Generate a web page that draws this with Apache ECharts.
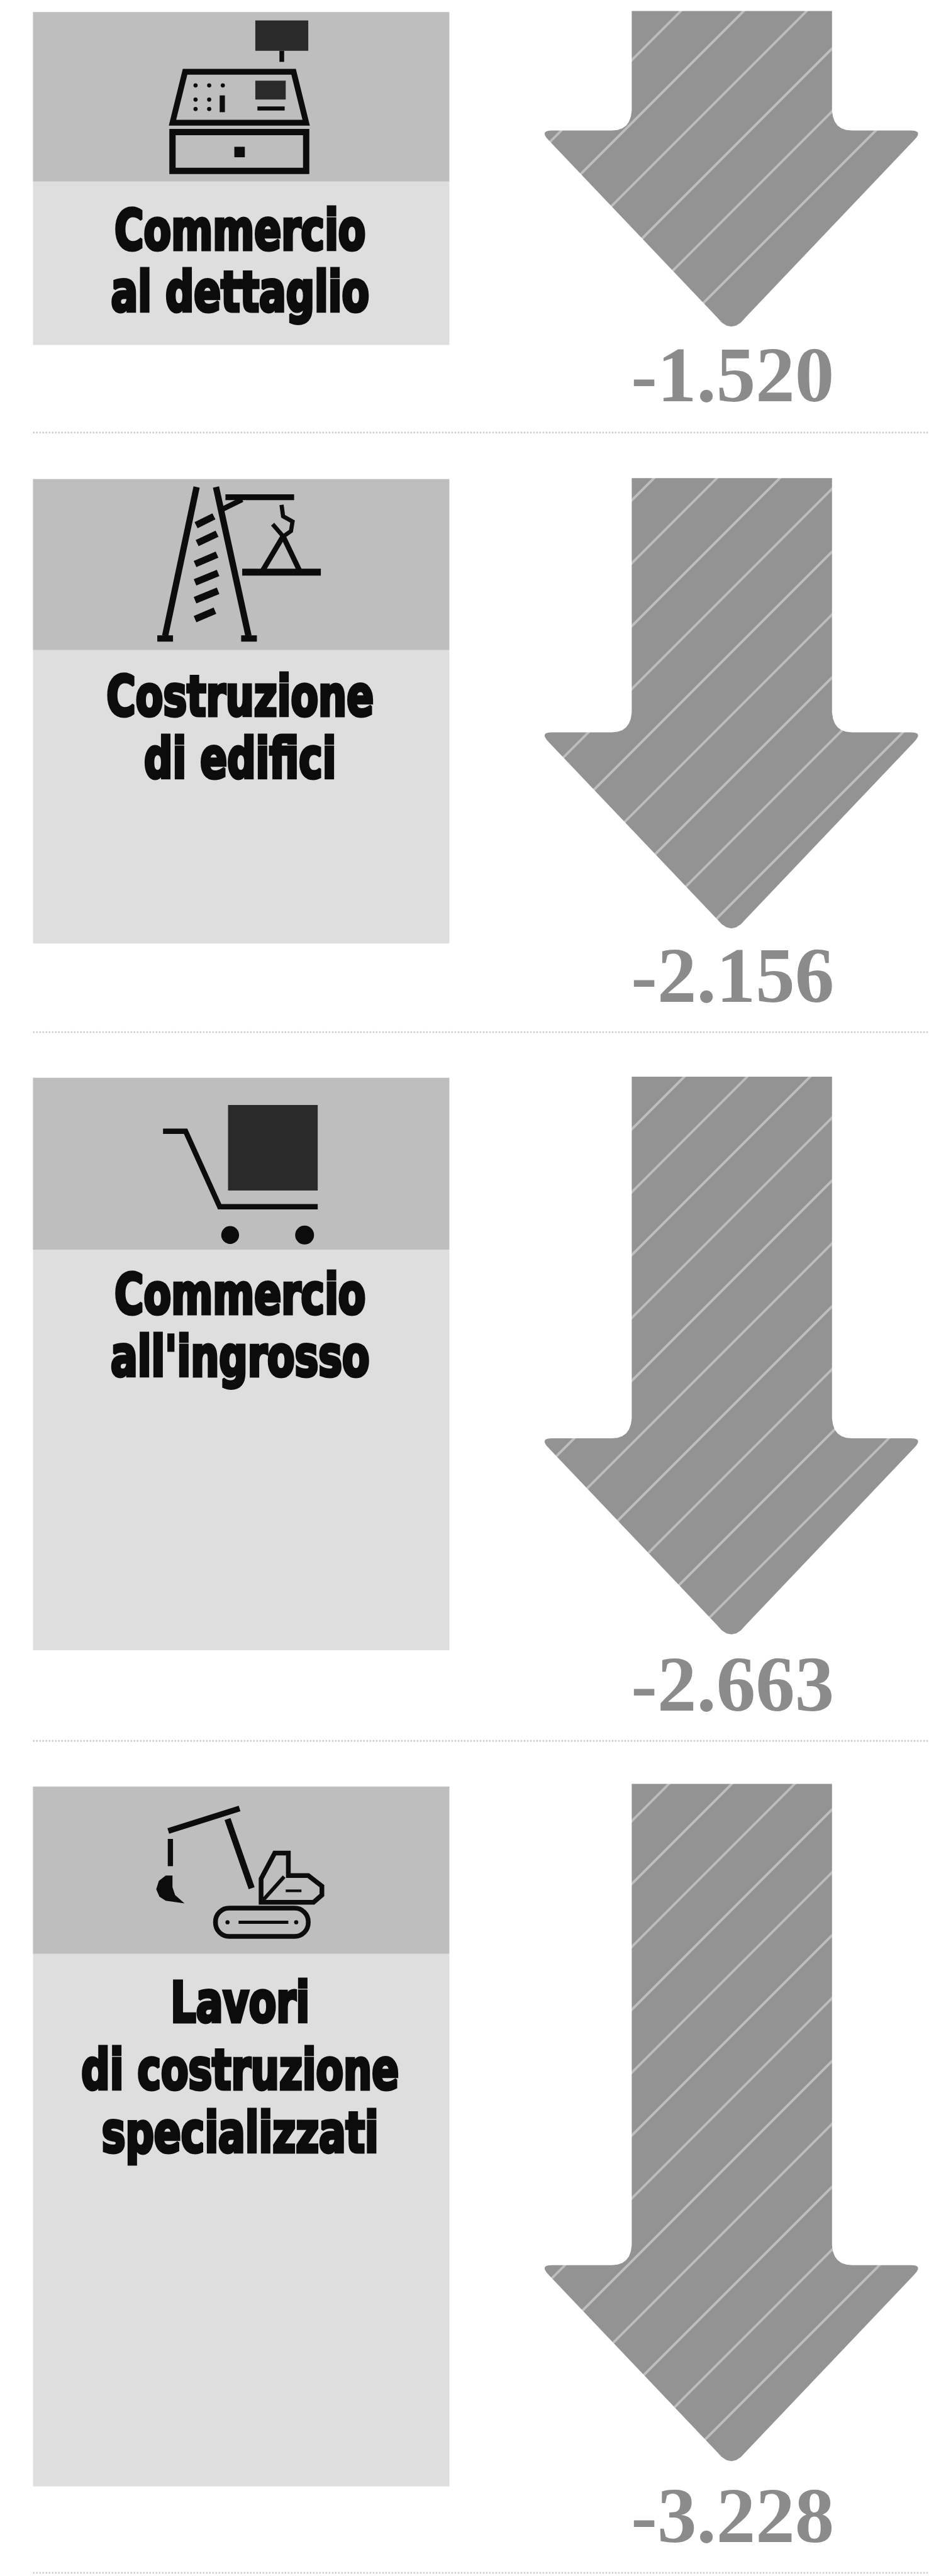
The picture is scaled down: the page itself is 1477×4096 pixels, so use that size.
<!DOCTYPE html>
<html lang="it">
<head>
<meta charset="utf-8">
<title>Settori</title>
<style>
  html, body { margin: 0; padding: 0; background: #fff; }
  #chart { width: 1477px; height: 4096px; }
</style>
<script src="https://cdn.jsdelivr.net/npm/echarts@6/dist/echarts.min.js"></script>
</head>
<body>
<div id="chart"></div>
<script>
// Sector names and the change in each one
const categories = ['Commercio al dettaglio', 'Costruzione di edifici', "Commercio all'ingrosso", 'Lavori di costruzione specializzati'];
const labelLines = [['Commercio', 'al dettaglio'], ['Costruzione', 'di edifici'], ['Commercio', "all'ingrosso"], ['Lavori', 'di costruzione', 'specializzati']];
const values = [-1520, -2156, -2663, -3228];

// Layout, in units of the 1772 x 4913 artboard
const S = 1477 / 1772;
const UNITS_PER_VALUE = 0.404;
const arrowTops = [21, 912, 2054, 3403];
const panelTops = [23, 914, 2056, 3408];
const bandBottoms = [346, 1240, 2384, 3727];
const panelBottoms = [658, 1800, 3148, 4743];
const valueMiddles = [727, 1873, 3224, 4810];
const separators = [825, 1969, 3321, 4908];
const labelBaselines = [[478, 596], [1368, 1486], [2509, 2627], [3859, 3988, 4108]];
const PANEL_LEFT = 63, PANEL_RIGHT = 857;
const SHAFT_LEFT = 1205, SHAFT_RIGHT = 1587, WING_LEFT = 1040, WING_RIGHT = 1750, ARROW_MID = 1395;
const HEAD = 386, FILLET = 38;
const NAME_WIDTH = 0.79;

const BAND = '#bebebe', PANEL = '#dedede', ARROW = '#939393', STRIPE = '#bdbdbd', INK = '#0c0c0c', VALUE = '#8b8b8b', RULE = '#cbcbcb';

function stripeTile() {
  const t = Math.round(120 * S);
  const c = document.createElement('canvas');
  c.width = c.height = t;
  const g = c.getContext('2d');
  g.fillStyle = ARROW;
  g.fillRect(0, 0, t, t);
  g.strokeStyle = STRIPE;
  g.lineWidth = 4;
  [[0, t, t, 0], [-t / 2, t / 2, t / 2, -t / 2], [t / 2, t + t / 2, t + t / 2, t / 2]].forEach(function (l) {
    g.beginPath(); g.moveTo(l[0], l[1]); g.lineTo(l[2], l[3]); g.stroke();
  });
  return c;
}
const stripePattern = { image: stripeTile(), repeat: 'repeat' };

function curve(p0, c, p1) {
  const out = [];
  for (let k = 0; k <= 6; k++) {
    const t = k / 6, u = 1 - t;
    out.push([u * u * p0[0] + 2 * u * t * c[0] + t * t * p1[0], u * u * p0[1] + 2 * u * t * c[1] + t * t * p1[1]]);
  }
  return out;
}

function formatValue(v) {
  const n = String(Math.abs(v));
  return '-' + n.slice(0, -3) + '.' + n.slice(-3);
}

// One down arrow whose length is set by the value through the row's y axis
function renderArrow(row) {
  return function (params, api) {
    const v = api.value(1);
    const x = function (u) { return api.coord([u, 0])[0]; };
    const top = api.coord([ARROW_MID, 0])[1];
    const tipY = api.coord([ARROW_MID, v])[1];
    const wingY = tipY - HEAD * S;
    const xl = x(SHAFT_LEFT), xr = x(SHAFT_RIGHT), wl = x(WING_LEFT), wr = x(WING_RIGHT), mid = x(ARROW_MID);
    const f = FILLET * S, r = 12 * S, tipR = 30 * S;
    const slope = (mid - wl) / (HEAD * S);
    const pts = [[xl, top], [xr, top]]
      .concat(curve([xr, wingY - f], [xr + 2, wingY], [xr + f, wingY]))
      .concat(curve([wr - r, wingY], [wr + r, wingY], [wr - r * 0.6, wingY + r * 1.6]))
      .concat(curve([mid + tipR * slope, tipY - tipR], [mid, tipY + 6 * S], [mid - tipR * slope, tipY - tipR]))
      .concat(curve([wl + r * 0.6, wingY + r * 1.6], [wl - r, wingY], [wl + r, wingY]))
      .concat(curve([xl - f, wingY], [xl - 2, wingY], [xl, wingY - f]));
    return {
      type: 'group',
      children: [
        { type: 'polygon', shape: { points: pts }, style: { fill: stripePattern } },
        {
          type: 'text',
          style: {
            text: formatValue(v), x: mid + 2, y: valueMiddles[row] * S,
            fill: VALUE, align: 'center', verticalAlign: 'middle',
            font: 'bold ' + 150 * S + 'px "Liberation Serif", serif'
          }
        }
      ]
    };
  };
}

const line = function (pts, w, color) {
  return { type: 'polyline', shape: { points: pts }, style: { stroke: color || INK, lineWidth: w, fill: null, lineJoin: 'miter' } };
};
const box = function (x0, y0, x1, y1, color) {
  return { type: 'rect', shape: { x: x0, y: y0, width: x1 - x0, height: y1 - y0 }, style: { fill: color || INK } };
};
const dot = function (cx, cy, r, color) {
  return { type: 'circle', shape: { cx: cx, cy: cy, r: r }, style: { fill: color || INK } };
};
const frame = function (x0, y0, x1, y1, w, r) {
  return { type: 'rect', shape: { x: x0, y: y0, width: x1 - x0, height: y1 - y0, r: r || 0 }, style: { fill: null, stroke: INK, lineWidth: w } };
};

// Pictograms: cash register, ladder and hoist, trolley, excavator
const DARK = '#2a2a2a';
const icons = [
  [
    box(487, 39, 588, 97, DARK), box(533, 97, 542, 118),
    { type: 'polygon', shape: { points: [[353, 137], [560, 137], [584, 234], [329, 234]] }, style: { fill: null, stroke: INK, lineWidth: 11 } },
    box(487, 154, 545, 190, DARK), box(491, 203, 543, 211),
    dot(373, 163, 4), dot(399, 163, 4), dot(425, 163, 4),
    dot(373, 190, 4), dot(399, 190, 4), box(419, 182, 429, 214),
    dot(373, 208, 4), dot(399, 208, 4),
    frame(329, 252, 584, 326, 12), box(447, 280, 467, 300)
  ],
  [
    line([[375, 929], [315, 1213]], 12), line([[412, 929], [474, 1213]], 12),
    box(300, 1212, 330, 1224), box(460, 1212, 490, 1224),
    line([[374, 1002], [408, 985]], 13), line([[376, 1036], [414, 1018]], 13), line([[372, 1076], [414, 1058]], 13),
    line([[372, 1111], [416, 1093]], 13), line([[372, 1145], [416, 1127]], 13), line([[372, 1181], [410, 1165]], 13),
    box(430, 943, 561, 954), line([[423, 972], [462, 953]], 10),
    line([[537, 963], [540, 985], [558, 995], [555, 1013], [538, 1025]], 8),
    line([[520, 1000], [540, 1023]], 8), line([[540, 1023], [500, 1090]], 10), line([[540, 1023], [572, 1090]], 10),
    box(462, 1085, 612, 1098)
  ],
  [
    box(435, 2108, 606, 2271, DARK),
    line([[311, 2158], [354, 2158], [419, 2302], [606, 2302]], 10),
    dot(439, 2356, 17), dot(581, 2356, 18)
  ],
  [
    line([[321, 3493], [400, 3468], [457, 3450]], 11), line([[434, 3470], [480, 3602]], 12),
    box(320, 3508, 330, 3560),
    { type: 'polygon', shape: { points: [[316, 3578], [303, 3588], [298, 3604], [304, 3618], [316, 3626], [352, 3631], [334, 3615], [329, 3600], [329, 3578]] }, style: { fill: INK } },
    { type: 'polygon', shape: { points: [[498, 3629], [498, 3584], [524, 3535], [550, 3535], [550, 3578], [588, 3578], [614, 3598], [614, 3615], [598, 3629]] }, style: { fill: null, stroke: INK, lineWidth: 9 } },
    line([[498, 3629], [542, 3580]], 7), line([[545, 3607], [575, 3607]], 5),
    frame(411, 3640, 588, 3694, 9, 26), box(455, 3664, 550, 3670),
    dot(434, 3667, 4), dot(565, 3667, 4)
  ]
];

// Panels, pictograms and sector names are placed in artboard units inside one scaled group
const artwork = [];
categories.forEach(function (name, i) {
  artwork.push(box(PANEL_LEFT, panelTops[i], PANEL_RIGHT, panelBottoms[i], PANEL));
  artwork.push(box(PANEL_LEFT, panelTops[i], PANEL_RIGHT, bandBottoms[i], BAND));
  artwork.push({ type: 'group', children: icons[i] });
  labelLines[i].forEach(function (t, j) {
    artwork.push({
      type: 'text',
      x: 458, y: labelBaselines[i][j] - 30, scaleX: NAME_WIDTH,
      style: {
        text: t, x: 0, y: 0, fill: INK, stroke: INK, lineWidth: 6,
        align: 'center', verticalAlign: 'middle',
        font: 'bold 107px "DejaVu Sans Condensed", "DejaVu Sans", sans-serif'
      }
    });
  });
  artwork.push({
    type: 'line', shape: { x1: PANEL_LEFT, y1: separators[i], x2: 1772, y2: separators[i] },
    style: { stroke: RULE, lineWidth: 3, lineDash: [3, 3] }
  });
});

const grids = [], xAxes = [], yAxes = [], series = [];
values.forEach(function (v, i) {
  grids.push({ left: 0, width: 1477, top: arrowTops[i] * S, height: 3500 * UNITS_PER_VALUE * S, containLabel: false });
  xAxes.push({ gridIndex: i, type: 'value', min: 0, max: 1772, show: false });
  yAxes.push({ gridIndex: i, type: 'value', min: -3500, max: 0, show: false });
  series.push({
    name: categories[i], type: 'custom', xAxisIndex: i, yAxisIndex: i, clip: false, silent: true, z: 5,
    renderItem: renderArrow(i),
    encode: { x: 0, y: 1 },
    data: [[ARROW_MID, v]]
  });
});

const chart = echarts.init(document.getElementById('chart'), null, { renderer: 'canvas', width: 1477, height: 4096 });
chart.setOption({
  animation: false,
  backgroundColor: '#ffffff',
  tooltip: { show: false },
  grid: grids,
  xAxis: xAxes,
  yAxis: yAxes,
  series: series,
  graphic: [{ type: 'group', left: 0, top: 0, bounding: 'raw', x: 0, y: 0, scaleX: S, scaleY: S, z: 1, silent: true, children: artwork }]
});
</script>
</body>
</html>
